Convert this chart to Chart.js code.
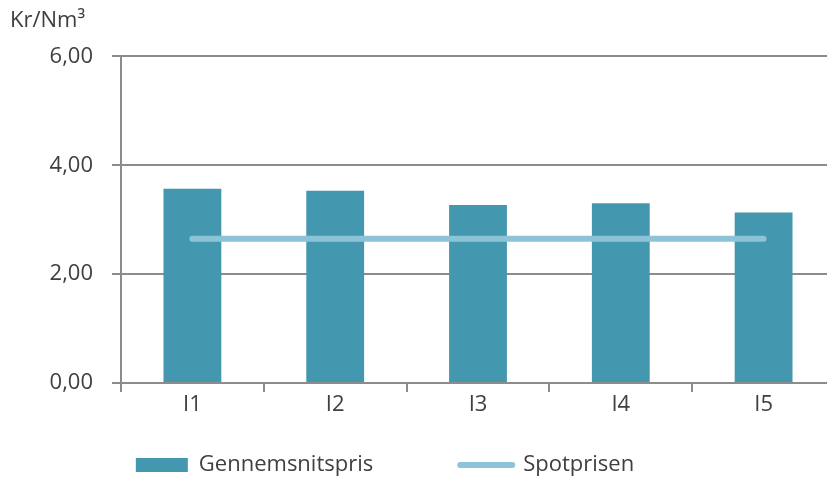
<!DOCTYPE html>
<html>
<head>
<meta charset="utf-8">
<script src="https://cdn.jsdelivr.net/npm/chart.js@4"></script>
<style>
  html, body { margin: 0; padding: 0; background: #fff; overflow: hidden; }
  #wrap { width: 840px; height: 479px; position: relative; }
</style>
</head>
<body>
<div id="wrap"><canvas id="chart"></canvas></div>
<script>
// data
const categories = ["I1", "I2", "I3", "I4", "I5"];
const avgPrice = [3.57, 3.53, 3.27, 3.30, 3.13];
const spotPrice = [2.65, 2.65, 2.65, 2.65, 2.65];
const yTicks = [0, 2, 4, 6];

const FONT = "'Open Sans', 'Liberation Sans', sans-serif";
const TEXT = "#404040";
const GRID = "#8c8c8c";
const BAR = "#4398b0";
const LINE = "#8dc3d6";

// empty legend slot, only used to widen the gap between the two entries
const spacer = () => ({
  text: "",
  fillStyle: "rgba(0,0,0,0)",
  strokeStyle: "rgba(0,0,0,0)",
  lineWidth: 0,
  pointStyle: "rect",
  hidden: false,
});

const ctx = document.getElementById("chart").getContext("2d");
const chart = new Chart(ctx, {
  data: {
    labels: categories,
    datasets: [
      {
        type: "bar",
        label: "Gennemsnitspris",
        data: avgPrice,
        backgroundColor: BAR,
        categoryPercentage: 1,
        barPercentage: 0.405,
        order: 1,
      },
      {
        type: "line",
        label: "Spotprisen",
        data: spotPrice,
        borderColor: LINE,
        borderWidth: 6,
        borderCapStyle: "round",
        pointRadius: 0,
        fill: false,
        order: 0, // line on top of the bars
      },
    ],
  },
  options: {
    responsive: true,
    maintainAspectRatio: false,
    animation: false,
    layout: { padding: { left: 10, right: 5, top: 0, bottom: -7 } },
    plugins: {
      tooltip: { enabled: false },
      title: {
        display: true,
        text: "Kr/Nm³",
        align: "start",
        color: TEXT,
        font: { family: FONT, size: 22, weight: "normal" },
        padding: { top: 8, bottom: 22 },
      },
      legend: {
        position: "bottom",
        align: "center",
        labels: {
          color: TEXT,
          font: { family: FONT, size: 22 },
          usePointStyle: true,
          pointStyleWidth: 52,
          boxHeight: 14,
          padding: 12,
          generateLabels: (c) => {
            const items = Chart.defaults.plugins.legend.labels.generateLabels(c);
            const bar = items.find((it) => it.datasetIndex === 0);
            const line = items.find((it) => it.datasetIndex === 1);
            bar.pointStyle = "rect";
            bar.fillStyle = BAR;
            bar.lineWidth = 0;
            line.pointStyle = "line";
            line.strokeStyle = LINE;
            line.lineWidth = 6;
            line.lineCap = "round";
            return [bar, spacer(), line, spacer()];
          },
        },
      },
    },
    scales: {
      x: {
        afterFit: (axis) => { axis.height = 59; },
        grid: {
          drawOnChartArea: false,
          drawTicks: true,
          tickLength: 9,
          color: GRID,
          lineWidth: 2,
        },
        border: { color: GRID, width: 2 },
        ticks: { color: TEXT, font: { family: FONT, size: 22 }, padding: 0 },
      },
      y: {
        min: 0,
        max: 6,
        afterFit: (axis) => { axis.width = 111; },
        afterBuildTicks: (axis) => {
          axis.ticks = yTicks.map((v) => ({ value: v }));
        },
        grid: {
          color: GRID,
          lineWidth: 2,
          tickLength: 9,
        },
        border: { color: GRID, width: 2 },
        ticks: {
          color: TEXT,
          font: { family: FONT, size: 22 },
          padding: 19,
          callback: (v) => v.toFixed(2).replace(".", ","),
        },
      },
    },
  },
});
</script>
</body>
</html>
